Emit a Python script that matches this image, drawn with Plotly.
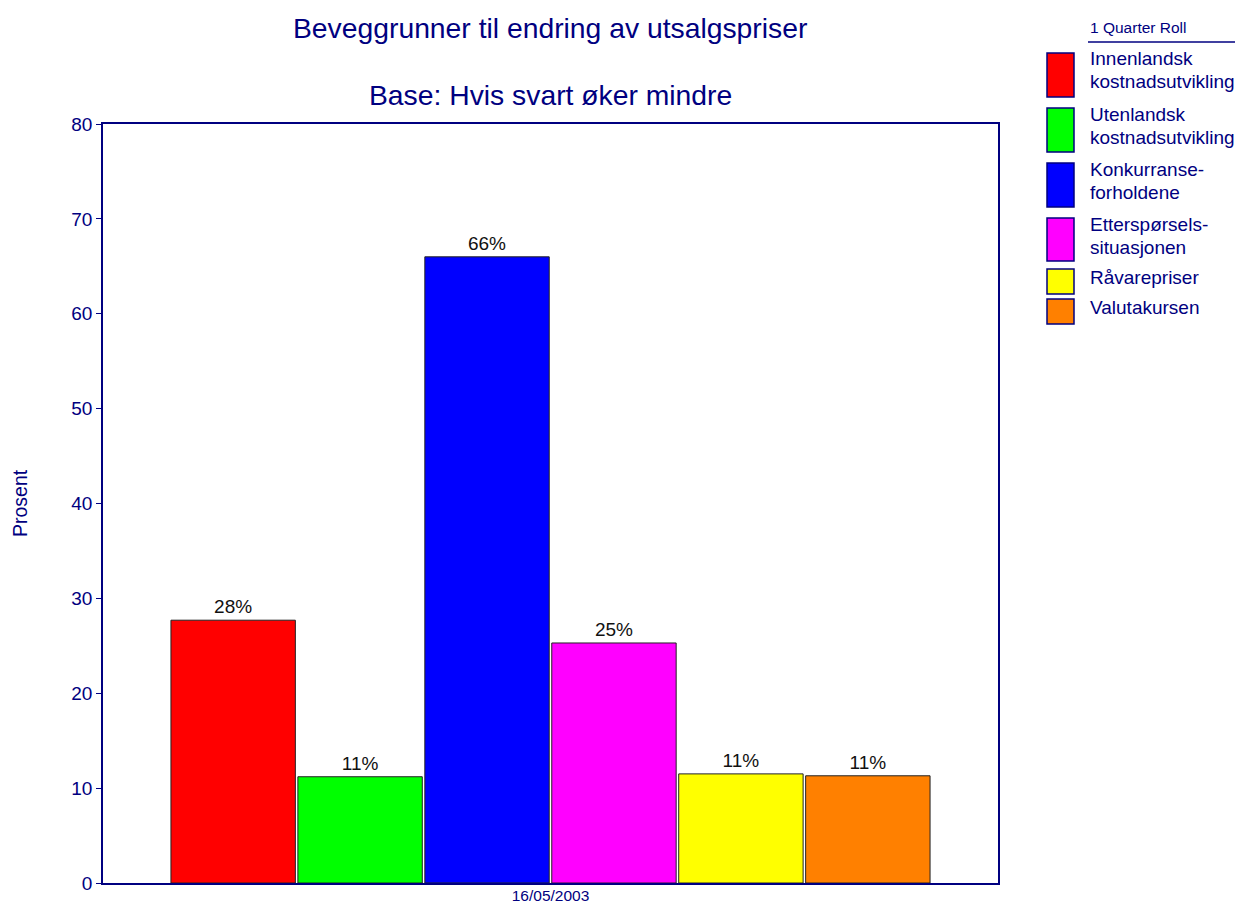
import plotly.graph_objects as go

categories = ["Innenlandsk<br>kostnadsutvikling", "Utenlandsk<br>kostnadsutvikling",
              "Konkurranse-<br>forholdene", "Etterspørsels-<br>situasjonen",
              "Råvarepriser", "Valutakursen"]
values = [27.7, 11.2, 66.0, 25.3, 11.5, 11.3]
labels = ["28%", "11%", "66%", "25%", "11%", "11%"]
colors = ["#FF0000", "#00FF00", "#0000FF", "#FF00FF", "#FFFF00", "#FF8000"]
x_label = ["16/05/2003"]
y_ticks = [0, 10, 20, 30, 40, 50, 60, 70, 80]

NAVY = "#000080"
FONT = "Liberation Sans, Arial, sans-serif"

fig = go.Figure()
for name, v, lab, c in zip(categories, values, labels, colors):
    fig.add_trace(go.Bar(
        x=x_label, y=[v], name=name.replace("<br>", " "), text=[lab], textposition="outside",
        textfont=dict(color="#111111", size=19, family=FONT),
        cliponaxis=False,
        marker=dict(color=c, line=dict(color="#222222", width=1)),
        showlegend=False,
    ))

OFF = 8  # page body margin
W, H = 1243 - OFF, 905 - OFF
L, R, T, B = 103 - OFF, 245, 124 - OFF, 22
pw, ph = W - L - R, H - T - B
PLOT_BOTTOM = OFF + H - B


def px(x):
    return (x - OFF - L) / pw


def py(y):
    return (PLOT_BOTTOM - y) / ph


LEG_FS = 19
shapes = []
annotations = []
# Legend title and underline
annotations.append(dict(x=px(1088), y=py(27), xref="paper", yref="paper", text="1 Quarter Roll",
                        showarrow=False, xanchor="left", yanchor="middle",
                        font=dict(size=15.5, color=NAVY, family=FONT)))
shapes.append(dict(type="line", xref="paper", yref="paper", x0=px(1088), x1=px(1243),
                   y0=py(42), y1=py(42), line=dict(color=NAVY, width=1.5)))
# legend entries: box (top, bottom) and cap-centre of each text line
boxes = [(53, 97), (108, 152), (163, 207), (218, 261), (269, 294), (299, 324)]
line_centres = [(60, 83), (116, 139), (171, 194), (226, 249), (279,), (309,)]
for (t, b), lines_y, name, c in zip(boxes, line_centres, categories, colors):
    shapes.append(dict(type="rect", xref="paper", yref="paper", x0=px(1047), x1=px(1074),
                       y0=py(b), y1=py(t), fillcolor=c, line=dict(color=NAVY, width=1.5)))
    for txt, yc in zip(name.split("<br>"), lines_y):
        annotations.append(dict(x=px(1088), y=py(yc - 0.72 * LEG_FS), xref="paper", yref="paper",
                                text=txt, showarrow=False, xanchor="left", yanchor="top",
                                align="left", font=dict(size=LEG_FS, color=NAVY, family=FONT)))

# Titles
annotations.append(dict(x=px(550), y=py(28), xref="paper", yref="paper",
                        text="Beveggrunner til endring av utsalgspriser", showarrow=False,
                        xanchor="center", yanchor="middle",
                        font=dict(size=28.3, color=NAVY, family=FONT)))
annotations.append(dict(x=px(550), y=py(95), xref="paper", yref="paper",
                        text="Base: Hvis svart øker mindre", showarrow=False,
                        xanchor="center", yanchor="middle",
                        font=dict(size=28.3, color=NAVY, family=FONT)))
# Y-axis title
annotations.append(dict(x=px(20), y=py(503), xref="paper", yref="paper",
                        text="Prosent", showarrow=False, textangle=-90,
                        xanchor="center", yanchor="middle",
                        font=dict(size=19.5, color=NAVY, family=FONT)))

fig.update_layout(
    width=W, height=H,
    margin=dict(l=L, r=R, t=T, b=B, pad=0, autoexpand=False),
    paper_bgcolor="white", plot_bgcolor="white",
    barmode="group", bargap=0.149, bargroupgap=0.02,
    shapes=shapes, annotations=annotations,
    font=dict(family=FONT, color=NAVY),
    xaxis=dict(showline=True, linecolor=NAVY, linewidth=2, mirror=True, automargin=False,
               ticks="", tickfont=dict(size=15.5, color=NAVY), showgrid=False,
               ticklabelstandoff=-3),
    yaxis=dict(range=[0, 80], tickvals=y_ticks, showline=True, linecolor=NAVY, linewidth=1.5,
               mirror=True, ticks="outside", ticklen=5, tickcolor=NAVY, automargin=False,
               tickfont=dict(size=19, color=NAVY), showgrid=False, zeroline=False),
)

fig.write_html("out.html")
